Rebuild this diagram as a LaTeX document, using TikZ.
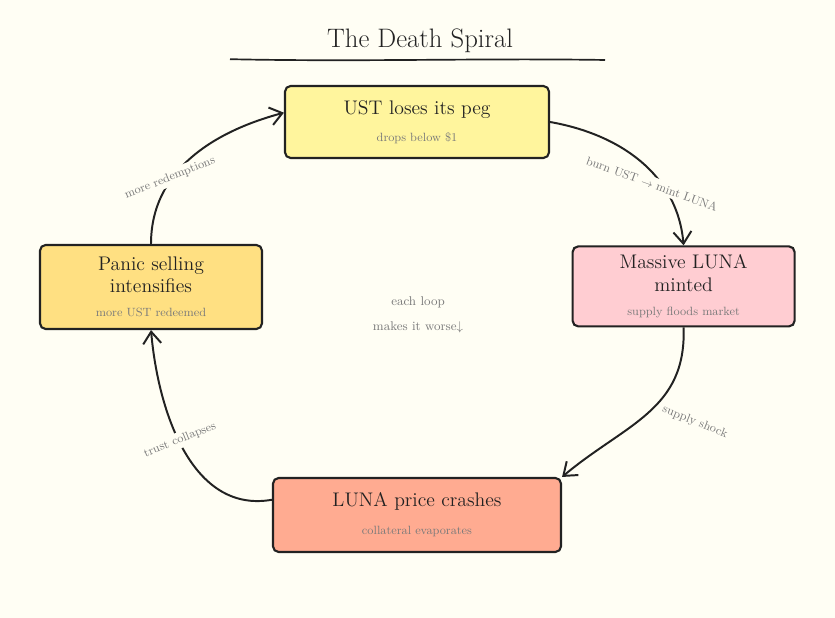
\documentclass[tikz,border=0pt]{standalone}
\usepackage{xcolor}
\usetikzlibrary{arrows.meta}

\definecolor{bgcream}{HTML}{FFFEF4}
\definecolor{inkblack}{HTML}{222222}
\definecolor{notegray}{HTML}{7A7A7A}
\definecolor{pegyellow}{HTML}{FFF59D}
\definecolor{lunapink}{HTML}{FFCDD2}
\definecolor{crashsalmon}{HTML}{FFAB91}
\definecolor{panicamber}{HTML}{FFE082}

\newcommand{\subline}[1]{{\fontsize{8.5}{10}\selectfont\color{notegray}#1}}

\begin{document}
\begin{tikzpicture}[
    stage/.style={draw=inkblack, line width=1.5pt, rounded corners=4pt, align=center,
        font=\fontsize{14}{16}\selectfont, text=inkblack, inner sep=2pt},
    flow/.style={draw=inkblack, line width=1.4pt,
        -{Straight Barb[length=3mm,width=4.5mm,line width=1.4pt]}},
    edgelabel/.style={fill=bgcream, text=notegray, inner sep=2pt,
        font=\fontsize{8.5}{10}\selectfont}
]
    % 1. FONDO Y MARCO
    \fill[bgcream] (0,0) rectangle (20.875,15.45);
    \useasboundingbox (0,0) rectangle (20.875,15.45);

    % 2. TITULO CON SUBRAYADO
    \node[text=inkblack, font=\fontsize{19}{22}\selectfont] (title) at (10.5,14.42) {The Death Spiral};
    \draw[inkblack, line width=1.2pt] (5.75,13.97) .. controls (9,13.9) and (12,14.0) .. (15.125,13.95);

    % 3. LAS CUATRO ETAPAS DEL CICLO
    \node[stage, fill=pegyellow, minimum width=6.6cm, minimum height=1.8cm] (ust) at (10.425,12.4)
        {UST loses its peg\\[3pt]\subline{drops below \$1}};
    \node[stage, fill=lunapink, minimum width=5.55cm, minimum height=2.0cm] (massive) at (17.09,8.29)
        {Massive LUNA\\minted\\[1pt]\subline{supply floods market}};
    \node[stage, fill=crashsalmon, minimum width=7.2cm, minimum height=1.85cm] (crash) at (10.425,2.575)
        {LUNA price crashes\\[4pt]\subline{collateral evaporates}};
    \node[stage, fill=panicamber, minimum width=5.55cm, minimum height=2.1cm] (panic) at (3.775,8.275)
        {Panic selling\\intensifies\\[1pt]\subline{more UST redeemed}};

    % 4. CONECTORES CURVOS (sentido horario)
    \draw[flow] (ust.east) to[out=-10, in=95] (massive.north);
    \draw[flow] (massive.south) to[out=-88, in=40, looseness=1.1] (crash.north east);
    \draw[flow] (crash.174) to[out=190, in=-85] (panic.south);
    \draw[flow] (panic.north) to[out=90, in=195] (ust.176);

    % 5. ETIQUETAS DE LOS CONECTORES
    \node[edgelabel, rotate=-20] (burn) at (16.3,10.85) {burn UST $\rightarrow$ mint LUNA};
    \node[edgelabel, rotate=-22] (shock) at (17.375,4.9) {supply shock};
    \node[edgelabel, rotate=22] (trust) at (4.5,4.45) {trust collapses};
    \node[edgelabel, rotate=22] (redeem) at (4.25,11.0) {more redemptions};

    % 6. NOTA CENTRAL
    \node[text=notegray, font=\fontsize{9}{11}\selectfont] (loop) at (10.45,7.9) {each loop};
    \node[text=notegray, font=\fontsize{9}{11}\selectfont] (worse) at (10.45,7.275) {makes it worse$\downarrow$};

\end{tikzpicture}
\end{document}
